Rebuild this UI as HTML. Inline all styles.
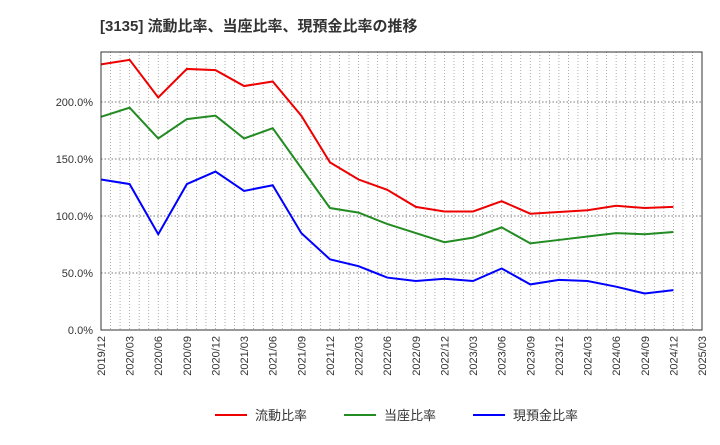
<!DOCTYPE html>
<html><head><meta charset="utf-8"><style>
body{margin:0;background:#fff;font-family:"Liberation Sans","Noto Sans CJK JP",sans-serif}
</style></head><body>
<svg id="c" width="720" height="440" xmlns="http://www.w3.org/2000/svg" font-family="Liberation Sans, Noto Sans CJK JP, sans-serif">
<text x="100" y="31" font-size="15" font-weight="bold" fill="#333">[3135]  流動比率、当座比率、現預金比率の推移</text>
<g id="grid"></g><g id="ax"></g><g id="lines"></g>
<rect x="101" y="52" width="601" height="278" fill="none" stroke="#333" stroke-width="1"/>
<g>
<line x1="215" y1="415" x2="247" y2="415" stroke="#e00" stroke-width="2"/><text x="255" y="420" font-size="13" fill="#333">流動比率</text>
<line x1="344" y1="415" x2="376" y2="415" stroke="#228b22" stroke-width="2"/><text x="384" y="420" font-size="13" fill="#333">当座比率</text>
<line x1="473" y1="415" x2="505" y2="415" stroke="#00f" stroke-width="2"/><text x="513" y="420" font-size="13" fill="#333">現預金比率</text>
</g>
</svg>
<script>
const xLabels=["2019/12","2020/03","2020/06","2020/09","2020/12","2021/03","2021/06","2021/09","2021/12","2022/03","2022/06","2022/09","2022/12","2023/03","2023/06","2023/09","2023/12","2024/03","2024/06","2024/09","2024/12","2025/03"];
const yTicks=[0,50,100,150,200];
const current=[233,237,204,229,228,214,218,188,147,132,123,108,104,104,113,102,103.5,105,109,107,108];
const quick=[187,195,168,185,188,168,177,142,107,103,93,85,77,81,90,76,79,82,85,84,86];
const cash=[132,128,84,128,139,122,127,85,62,56,46,43,45,43,54,40,44,43,38,32,35];
const NS="http://www.w3.org/2000/svg";
const X=i=>101+i*(601/21), Y=v=>330-v*1.14;
function mk(t,a,p){const e=document.createElementNS(NS,t);for(const k in a)e.setAttribute(k,a[k]);p.appendChild(e);return e;}
const grid=document.getElementById('grid'),ax=document.getElementById('ax'),lines=document.getElementById('lines');
for(let m=1;m<63;m++){const x=101+m*601/63;const l=mk('line',{x1:x,x2:x,y1:52,y2:330,stroke:'#999','stroke-dasharray':'1,2','stroke-width':0.8},grid);

}
yTicks.forEach(v=>{if(v>0){const l=mk('line',{x1:101,x2:702,y1:Y(v),y2:Y(v),stroke:'#777','stroke-dasharray':'1.5,2'},grid);

}
const t=mk('text',{x:93,y:Y(v)+4,'text-anchor':'end','font-size':11,fill:'#333'},ax);t.textContent=v.toFixed(1)+'%';

});
xLabels.forEach((s,i)=>{const x=X(i);const t=mk('text',{transform:`translate(${x+4},336) rotate(-90)`,'text-anchor':'end','font-size':11,fill:'#333'},ax);t.textContent=s;

});
[[current,'#e00','current-ratio-line'],[quick,'#228b22','quick-ratio-line'],[cash,'#00f','cash-ratio-line']].forEach(([d,c,n])=>{
const p=mk('polyline',{points:d.map((v,i)=>X(i)+','+Y(v)).join(' '),fill:'none',stroke:c,'stroke-width':2},lines);

});
</script>
</body></html>
